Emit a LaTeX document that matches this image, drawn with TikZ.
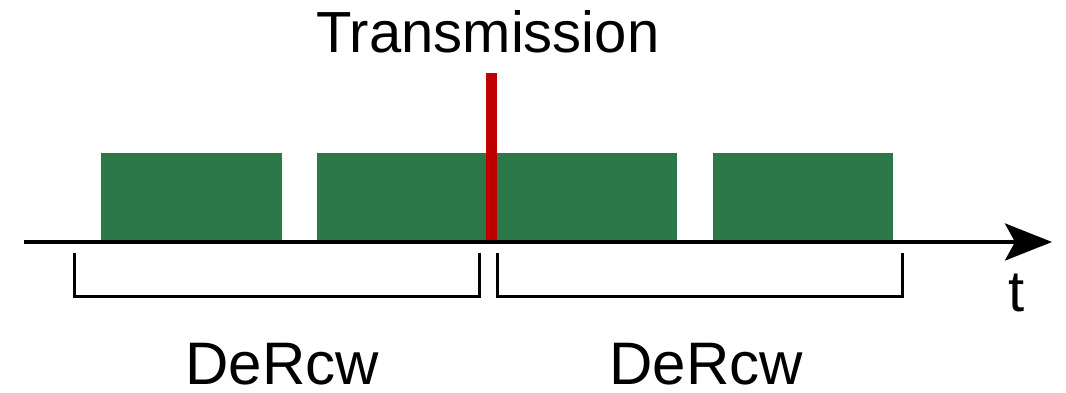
\documentclass[tikz,border=0pt]{standalone}
\usepackage{fontspec}
\setmainfont{Liberation Sans}
\usetikzlibrary{arrows.meta}
\definecolor{boxgreen}{HTML}{2D7849}
\definecolor{txred}{HTML}{C00000}
\tikzset{
  x=1pt, y=1pt,
  slot/.style={fill=boxgreen, draw=none, inner sep=0pt, anchor=south west, minimum height=89pt},
  lbl/.style={font=\fontsize{58}{70}\selectfont, inner sep=0pt, anchor=base},
  biglbl/.style={font=\fontsize{60}{72}\selectfont, inner sep=0pt, anchor=base},
  axisline/.style={line width=4pt, -{Stealth[length=47pt, width=37pt, inset=10pt]}},
  brk/.style={line width=3pt},
  txline/.style={line width=11pt, txred}
}
\begin{document}
\begin{tikzpicture}
\useasboundingbox (0,0) rectangle (1066,393);
% boxes
\node[slot, minimum width=181pt] (b1) at (101,151) {};
\node[slot, minimum width=360pt] (b2) at (317,151) {};
\node[slot, minimum width=180pt] (b3) at (713,151) {};
% transmission line
\coordinate (tx0) at (491.5,151);
\coordinate (tx1) at (491.5,320);
\draw[txline] (tx0) -- (tx1);
% axis
\coordinate (a0) at (24,151);
\coordinate (a1) at (1052,151);
\draw[axisline] (a0) -- (a1);
% brackets
\coordinate (l0) at (74,140);
\coordinate (l1) at (74,96);
\coordinate (l2) at (479,96);
\coordinate (l3) at (479,140);
\draw[brk] (l0) -- (l1) -- (l2) -- (l3);
\coordinate (r0) at (497,140);
\coordinate (r1) at (497,96);
\coordinate (r2) at (902,96);
\coordinate (r3) at (902,140);
\draw[brk] (r0) -- (r1) -- (r2) -- (r3);
% labels
\node[lbl] (ttx) at (488,340) {Transmission};
\node[biglbl] (d1) at (282,8.5) {DeRcw};
\node[biglbl] (d2) at (706,8.5) {DeRcw};
\node[lbl] (t) at (1017,81) {t};
\end{tikzpicture}
\end{document}
